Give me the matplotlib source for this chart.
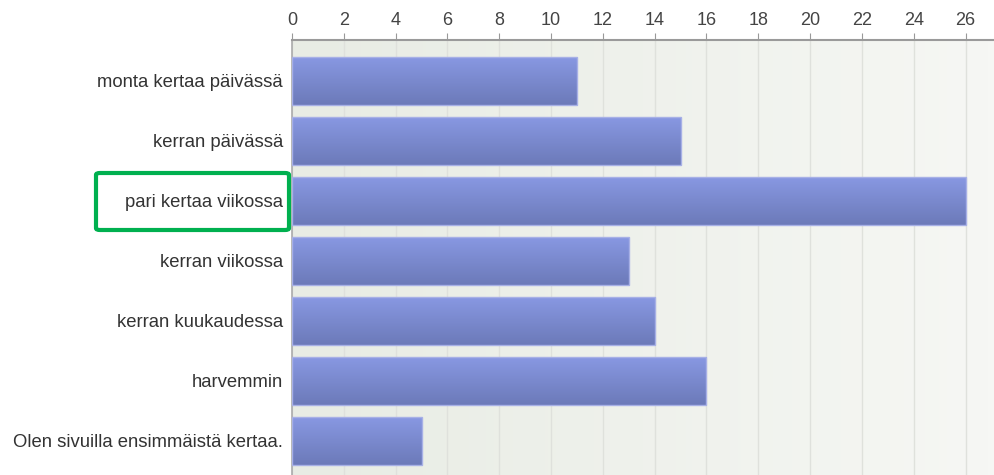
import numpy as np
import matplotlib.pyplot as plt
from matplotlib.patches import FancyBboxPatch
from matplotlib.colors import LinearSegmentedColormap

# data
categories = ["monta kertaa päivässä", "kerran päivässä", "pari kertaa viikossa",
              "kerran viikossa", "kerran kuukaudessa", "harvemmin",
              "Olen sivuilla ensimmäistä kertaa."]
counts = [11, 15, 26, 13, 14, 16, 5]
x_ticks = list(range(0, 27, 2))

plt.rcParams['font.family'] = ['Liberation Sans', 'DejaVu Sans']

fig = plt.figure(figsize=(9.94, 4.75), dpi=100)
ax = fig.add_axes([292 / 994, 0, 1 - 292 / 994, 1 - 40 / 475])

y = np.arange(len(categories))
bars = ax.barh(y, counts, height=0.8, color='none', edgecolor='#a7b0e6', linewidth=1, zorder=3)

# gradient fill for bars
bar_cmap = LinearSegmentedColormap.from_list('bar', ['#8898e2', '#6c7ab9'])
grad = np.linspace(0, 1, 100).reshape(-1, 1)
for b in bars:
    x0, y0 = b.get_x(), b.get_y()
    w, h = b.get_width(), b.get_height()
    im = ax.imshow(grad, cmap=bar_cmap, aspect='auto', extent=[x0, x0 + w, y0 + h, y0],
                   zorder=2, interpolation='bilinear')
    im.set_clip_path(b)

# background gradient
bg_cmap = LinearSegmentedColormap.from_list('bg', ['#e8ece4', '#f6f7f4'])
ax.imshow(np.linspace(0, 1, 100).reshape(1, -1), cmap=bg_cmap, aspect='auto',
          extent=[0, 1, 0, 1], transform=ax.transAxes, zorder=0, interpolation='bilinear')

ax.set_xlim(0, 27.1)
ax.set_ylim(6.567, -0.683)

ax.xaxis.tick_top()
ax.set_xticks(x_ticks)
ax.tick_params(axis='x', direction='out', length=5, color='#999999', labelsize=13,
               labelcolor='#444444', pad=3)
ax.set_yticks(y)
ax.set_yticklabels(categories)
ax.tick_params(axis='y', length=0, labelsize=13.3, labelcolor='#333333', pad=6.5)
ax.grid(axis='x', color='#dfe1dc', linewidth=1, zorder=1)
ax.set_axisbelow(True)

for s in ['right', 'bottom']:
    ax.spines[s].set_visible(False)
ax.spines['top'].set_color('#9a9a9a')
ax.spines['top'].set_linewidth(1.5)
ax.spines['left'].set_color('#aaaaaa')
ax.spines['left'].set_linewidth(1.2)

# highlight box around one label
box = FancyBboxPatch((96 / 994, 1 - 230 / 475), 193 / 994, 57 / 475,
                     boxstyle='round,pad=0,rounding_size=0.004',
                     transform=fig.transFigure, fill=False, edgecolor='#00b04f', linewidth=3)
fig.add_artist(box)

fig.savefig('out.png', dpi=100)
